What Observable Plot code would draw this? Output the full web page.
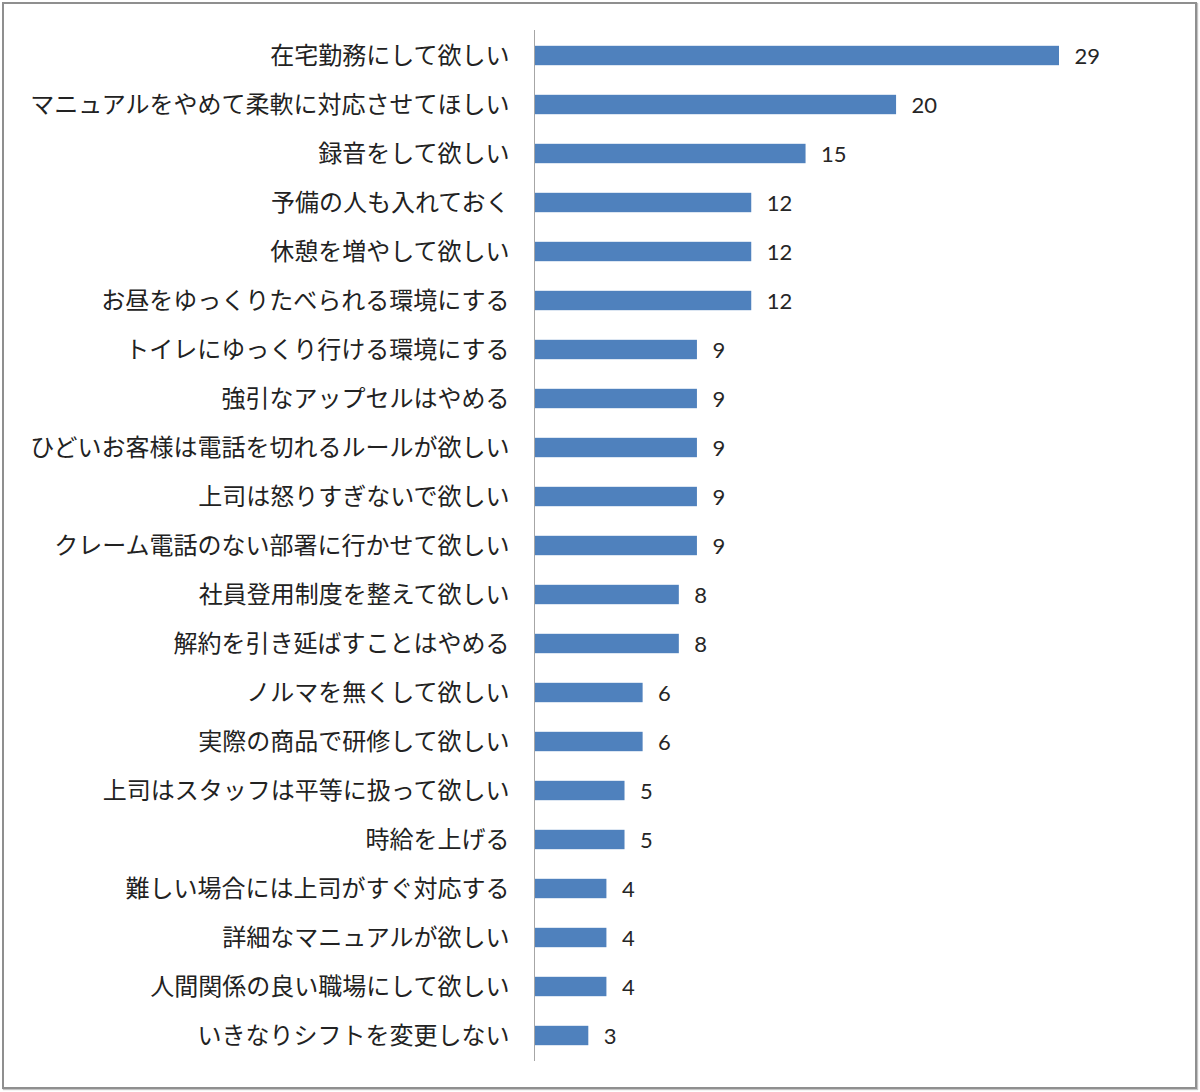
<!DOCTYPE html>
<html>
<head>
<meta charset="utf-8">
<script src="https://cdn.jsdelivr.net/npm/d3@7"></script>
<script src="https://cdn.jsdelivr.net/npm/@observablehq/plot@0.6"></script>
<style>
  html, body { margin: 0; padding: 0; background: #fff; }
  #wrap { position: relative; width: 1200px; height: 1092px; overflow: hidden; }
  #chart { position: absolute; left: 0; top: 0; }
  #frame { position: absolute; left: 2px; top: 2px; width: 1195px; height: 1087px; box-sizing: border-box;
           border: 2px solid #8f8f8f; box-shadow: 1px 1px 1px #c4c4c4; pointer-events: none; }
</style>
</head>
<body>
<div id="wrap"><div id="chart"></div><div id="frame"></div></div>
<script>
const categories = [
  "在宅勤務にして欲しい",
  "マニュアルをやめて柔軟に対応させてほしい",
  "録音をして欲しい",
  "予備の人も入れておく",
  "休憩を増やして欲しい",
  "お昼をゆっくりたべられる環境にする",
  "トイレにゆっくり行ける環境にする",
  "強引なアップセルはやめる",
  "ひどいお客様は電話を切れるルールが欲しい",
  "上司は怒りすぎないで欲しい",
  "クレーム電話のない部署に行かせて欲しい",
  "社員登用制度を整えて欲しい",
  "解約を引き延ばすことはやめる",
  "ノルマを無くして欲しい",
  "実際の商品で研修して欲しい",
  "上司はスタッフは平等に扱って欲しい",
  "時給を上げる",
  "難しい場合には上司がすぐ対応する",
  "詳細なマニュアルが欲しい",
  "人間関係の良い職場にして欲しい",
  "いきなりシフトを変更しない"
];
const values = [29, 20, 15, 12, 12, 12, 9, 9, 9, 9, 9, 8, 8, 6, 6, 5, 5, 4, 4, 4, 3];

const data = categories.map((c, i) => ({label: c, value: values[i]}));

const chart = Plot.plot({
  width: 1200,
  height: 1092,
  marginLeft: 534,
  marginRight: 141,
  marginTop: 30,
  marginBottom: 31,
  style: {fontFamily: "'Noto Sans CJK JP', sans-serif", background: "transparent"},
  x: {domain: [0, 29], axis: null},
  y: {domain: categories, padding: 0, axis: null},
  marks: [
    Plot.barX(data, {x: "value", y: "label", fill: "#4F81BD", insetTop: 14.8, insetBottom: 14.8}),
    Plot.ruleX([0], {stroke: "#a6a6a6", strokeWidth: 1}),
    Plot.text(data, {x: 0, y: "label", text: "label", dx: -25, textAnchor: "end",
      fontSize: 24, fill: "#222", fontFamily: "'Noto Sans CJK JP', sans-serif"}),
    Plot.text(data, {x: "value", y: "label", text: d => String(d.value), dx: 15, dy: 1, textAnchor: "start",
      fontSize: 22, fill: "#262626", fontFamily: "Lato, sans-serif"})
  ]
});
document.getElementById("chart").appendChild(chart);
</script>
</body>
</html>
